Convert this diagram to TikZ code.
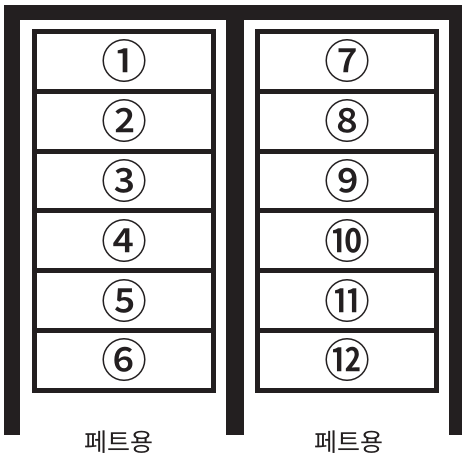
\documentclass[tikz,border=0pt]{standalone}
\usepackage{fontspec}
\setmainfont{Noto Sans CJK KR}
\newfontfamily\slotfont{Noto Sans CJK KR Medium}
\usetikzlibrary{positioning}
\definecolor{inkblack}{HTML}{231F20}

\begin{document}
\begin{tikzpicture}[
        x=1pt, y=-1pt,
        rack/.style={fill=inkblack},
        slot/.style={draw=inkblack, line width=5pt, outer sep=0pt, inner sep=0pt,
            minimum width=179pt, minimum height=59.8pt, text=inkblack,
            font=\slotfont\fontsize{46}{46}\selectfont},
        usage/.style={text=inkblack, font=\fontsize{25}{25}\selectfont}
    ]
    \useasboundingbox (0,0) rectangle (462,455);
    % frame
    \fill[rack] (4,5) rectangle (462,20);
    \fill[rack] (4,5) rectangle (20,435);
    \fill[rack] (226,5) rectangle (244,435);
    \fill[rack] (449,5) rectangle (462,435);
    % left column
    \node[slot, anchor=north west] (s1) at (34.5,31.5) {①};
    \node[slot, below=0pt of s1] (s2) {②};
    \node[slot, below=0pt of s2] (s3) {③};
    \node[slot, below=0pt of s3] (s4) {④};
    \node[slot, below=0pt of s4] (s5) {⑤};
    \node[slot, below=0pt of s5] (s6) {⑥};
    % right column
    \node[slot, anchor=north west] (s7) at (257.5,31.5) {⑦};
    \node[slot, below=0pt of s7] (s8) {⑧};
    \node[slot, below=0pt of s8] (s9) {⑨};
    \node[slot, below=0pt of s9] (s10) {⑩};
    \node[slot, below=0pt of s10] (s11) {⑪};
    \node[slot, below=0pt of s11] (s12) {⑫};
    % labels
    \node[usage] (pet1) at (119,442) {페트용};
    \node[usage] (pet2) at (349,442) {페트용};
\end{tikzpicture}
\end{document}
